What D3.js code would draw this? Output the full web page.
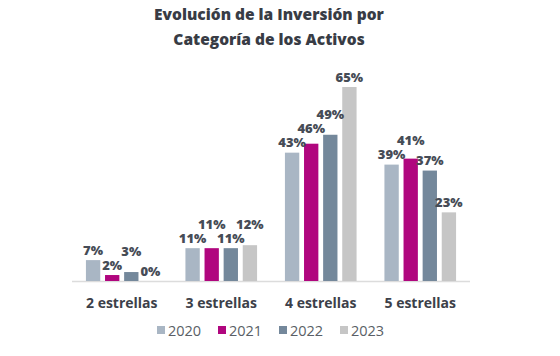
<!DOCTYPE html>
<html><head><meta charset="utf-8">
<script src="https://cdn.jsdelivr.net/npm/d3@7"></script>
<style>body{margin:0;background:#fff;}svg{display:block;font-family:"Open Sans",sans-serif;}</style>
</head><body><svg id="c" width="560" height="356"></svg>
<script>
const categories = ["2 estrellas", "3 estrellas", "4 estrellas", "5 estrellas"];
const years = ["2020", "2021", "2022", "2023"];
const v2020 = [7, 11, 43, 39];
const v2021 = [2, 11, 46, 41];
const v2022 = [3, 11, 49, 37];
const v2023 = [0, 12, 65, 23];
const colors = ["#a9b6c4", "#b0067e", "#74889b", "#c6c6c6"];
const titleLines = ["Evolución de la Inversión por", "Categoría de los Activos"];

const series = [v2020, v2021, v2022, v2023];
const svg = d3.select("#c");
const base = 281;
const x0 = d3.scaleBand().domain(categories).range([72, 470]).paddingInner(0.28).paddingOuter(0.14);
const x1 = d3.scaleBand().domain(years).range([0, x0.bandwidth()]).paddingInner(0.25);
const y = d3.scaleLinear().domain([0, 65]).range([base, 87]);

svg.append("g").selectAll("text").data(titleLines).join("text")
  .attr("x", 269).attr("y", (d, i) => 20 + i * 25)
  .attr("text-anchor", "middle").attr("font-size", 15.5).attr("font-weight", 800)
  .attr("fill", "#383c45").text(d => d);

svg.append("line").attr("x1", 72).attr("x2", 470).attr("y1", base + 0.5).attr("y2", base + 0.5)
  .attr("stroke", "#dcdcdc").attr("stroke-width", 1.5);

const data = [];
categories.forEach((c, ci) => years.forEach((yr, yi) => data.push({c, yr, yi, v: series[yi][ci]})));

// label placement: just above the bar, stepping up when it collides with the previous label
const labelW = 26, sep = 13;
let prev = null;
data.forEach(d => {
  d.lx = x0(d.c) + x1(d.yr) + x1.bandwidth() / 2;
  d.ly = y(d.v) - 10;
  if (prev && prev.c === d.c && Math.abs(prev.lx - d.lx) < labelW && Math.abs(prev.ly - d.ly) < sep) {
    d.ly = prev.ly - sep - 1;
  }
  prev = d;
});

const g = svg.append("g");
g.selectAll("rect").data(data).join("rect")
  .attr("x", d => x0(d.c) + x1(d.yr))
  .attr("width", x1.bandwidth())
  .attr("y", d => y(d.v))
  .attr("height", d => base - y(d.v))
  .attr("fill", d => colors[d.yi]);

g.selectAll("text").data(data).join("text")
  .attr("x", d => d.lx)
  .attr("y", d => d.ly + 4.5)
  .attr("text-anchor", "middle").attr("font-size", 13).attr("font-weight", 800)
  .attr("fill", "#464c56").text(d => d.v + "%");

const xAxis = d3.axisBottom(x0).tickSize(0).tickPadding(0);
const ax = svg.append("g").attr("transform", `translate(0,${base + 27})`).call(xAxis);
ax.select(".domain").remove();
ax.selectAll("text").attr("font-size", 14).attr("font-weight", 700)
  .attr("fill", "#3c4049").attr("font-family", "'Open Sans', sans-serif").attr("dy", 0);

const leg = svg.append("g").selectAll("g").data(years).join("g")
  .attr("transform", (d, i) => `translate(${157 + i * 61},330)`);
leg.append("rect").attr("x", 0).attr("y", -4).attr("width", 8).attr("height", 8)
  .attr("fill", (d, i) => colors[i]);
leg.append("text").attr("x", 11).attr("y", 5.5).attr("font-size", 14.5)
  .attr("fill", "#5a5f66").text(d => d);
</script></body></html>
